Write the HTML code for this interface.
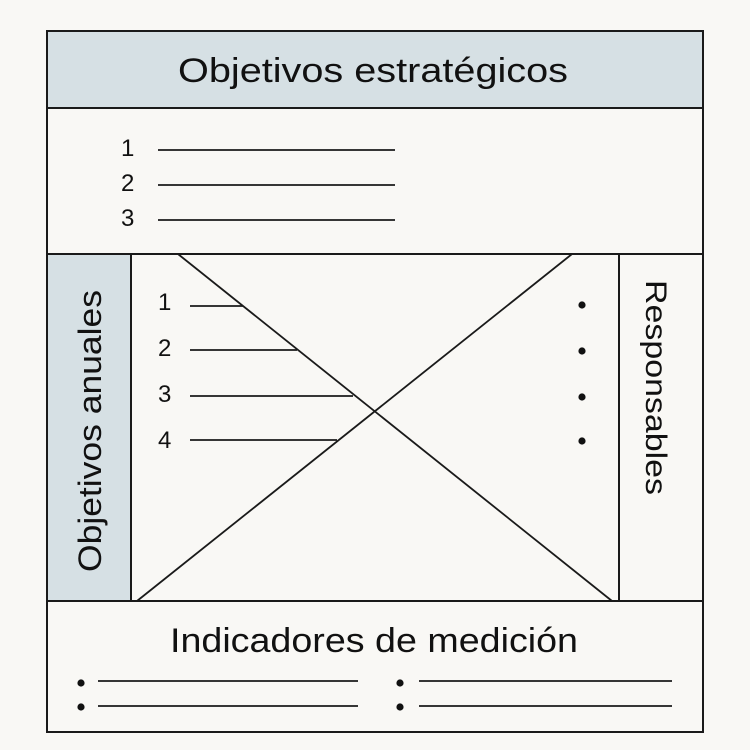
<!DOCTYPE html>
<html><head><meta charset="utf-8"><style>
body{margin:0;background:#f9f8f5;}
svg{display:block}
text{font-family:"Liberation Sans",sans-serif;fill:#111}
</style></head><body>
<svg width="750" height="750" viewBox="0 0 750 750">
<rect x="0" y="0" width="750" height="750" fill="#f9f8f5"/>
<rect x="47" y="31" width="656" height="77" fill="#d6e0e4"/>
<rect x="47" y="254" width="84" height="347" fill="#d6e0e4"/>
<g stroke="#1a1a1a" stroke-width="2" fill="none">
<rect x="47" y="31" width="656" height="701"/>
<line x1="47" y1="108" x2="703" y2="108"/>
<line x1="47" y1="254" x2="703" y2="254"/>
<line x1="47" y1="601" x2="703" y2="601"/>
<line x1="131" y1="254" x2="131" y2="601"/>
<line x1="619" y1="254" x2="619" y2="601"/>
</g>
<g stroke="#1a1a1a" stroke-width="1.8">
<line x1="178" y1="254" x2="612" y2="601"/>
<line x1="572" y1="254" x2="137" y2="601"/>
<line x1="158" y1="150" x2="395" y2="150"/>
<line x1="158" y1="185" x2="395" y2="185"/>
<line x1="158" y1="220" x2="395" y2="220"/>
<line x1="190" y1="306" x2="243" y2="306"/>
<line x1="190" y1="350" x2="297" y2="350"/>
<line x1="190" y1="396" x2="353" y2="396"/>
<line x1="190" y1="440" x2="337" y2="440"/>
<line x1="98" y1="681" x2="358" y2="681"/>
<line x1="98" y1="706" x2="358" y2="706"/>
<line x1="419" y1="681" x2="672" y2="681"/>
<line x1="419" y1="706" x2="672" y2="706"/>
</g>
<g fill="#111">
<circle cx="582" cy="305" r="3.6"/><circle cx="582" cy="351" r="3.6"/>
<circle cx="582" cy="397" r="3.6"/><circle cx="582" cy="441" r="3.6"/>
<circle cx="81" cy="683" r="3.6"/><circle cx="81" cy="707" r="3.6"/>
<circle cx="400" cy="683" r="3.6"/><circle cx="400" cy="707" r="3.6"/>
</g>
<text x="178" y="82" font-size="34" textLength="390" lengthAdjust="spacingAndGlyphs">Objetivos estratégicos</text>
<text x="170" y="652" font-size="34" textLength="408" lengthAdjust="spacingAndGlyphs">Indicadores de medición</text>
<g font-size="24">
<text x="121" y="156">1</text><text x="121" y="191">2</text><text x="121" y="226">3</text>
<text x="158" y="310">1</text><text x="158" y="356">2</text><text x="158" y="402">3</text><text x="158" y="448">4</text>
</g>
<text transform="translate(101,572) rotate(-90)" font-size="32" textLength="282" lengthAdjust="spacingAndGlyphs">Objetivos anuales</text>
<text transform="translate(646,280) rotate(90)" font-size="30" textLength="215" lengthAdjust="spacingAndGlyphs">Responsables</text>
</svg>
</body></html>
